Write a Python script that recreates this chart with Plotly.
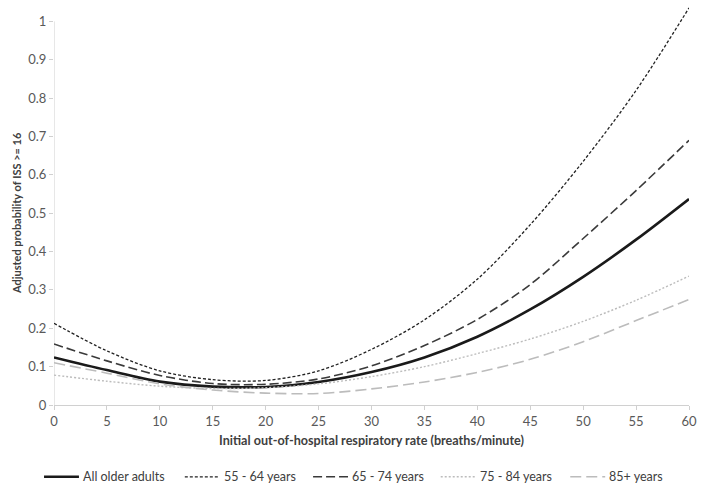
import plotly.graph_objects as go

resp_rate = [0, 5, 10, 15, 20, 25, 30, 35, 40, 45, 50, 55, 60]

all_older = [0.124, 0.091, 0.061, 0.048, 0.047, 0.060, 0.086, 0.124, 0.178, 0.249, 0.334, 0.431, 0.537]
age_55_64 = [0.213, 0.141, 0.089, 0.066, 0.064, 0.089, 0.145, 0.222, 0.328, 0.470, 0.635, 0.820, 1.035]
age_65_74 = [0.159, 0.115, 0.077, 0.056, 0.054, 0.068, 0.102, 0.155, 0.223, 0.314, 0.434, 0.559, 0.690]
age_75_84 = [0.078, 0.062, 0.049, 0.043, 0.045, 0.055, 0.074, 0.100, 0.134, 0.172, 0.218, 0.273, 0.336]
age_85_up = [0.110, 0.083, 0.055, 0.039, 0.031, 0.030, 0.042, 0.060, 0.085, 0.119, 0.165, 0.220, 0.275]

series = [
    ("All older adults", all_older, "#1a1a1a", 2.6, "solid"),
    ("55 - 64 years", age_55_64, "#222222", 1.3, "3px,2px"),
    ("65 - 74 years", age_65_74, "#3a3a3a", 1.6, "9px,4px"),
    ("75 - 84 years", age_75_84, "#bcbcbc", 1.4, "2px,2px"),
    ("85+ years", age_85_up, "#bcbcbc", 1.6, "11px,5px"),
]

x_ticks = list(range(0, 61, 5))
y_ticks = [0, 0.1, 0.2, 0.3, 0.4, 0.5, 0.6, 0.7, 0.8, 0.9, 1]
y_tick_text = ["0", "0.1", "0.2", "0.3", "0.4", "0.5", "0.6", "0.7", "0.8", "0.9", "1"]

# legend layout (paper coordinates)
legend_line_x0 = [-0.0157, 0.206, 0.408, 0.609, 0.813]
legend_line_len = 0.055
legend_y = -0.180

fig = go.Figure()
for name, vals, color, width, dash in series:
    fig.add_trace(go.Scatter(
        x=resp_rate, y=vals, mode="lines", name=name, showlegend=False,
        line=dict(color=color, width=width, dash=dash, shape="spline", smoothing=0.9),
    ))

font_family = "Lato, 'Open Sans', sans-serif"

shapes = [dict(type="line", xref="x", yref="y", x0=0, x1=0, y0=0, y1=1,
               line=dict(color="#d0d0d0", width=1), layer="below")]
annotations = []
for (name, vals, color, width, dash), lx in zip(series, legend_line_x0):
    shapes.append(dict(type="line", xref="paper", yref="paper",
                       x0=lx, x1=lx + legend_line_len, y0=legend_y, y1=legend_y,
                       line=dict(color=color, width=width, dash=dash)))
    annotations.append(dict(xref="paper", yref="paper", x=lx + legend_line_len + 0.003,
                            y=legend_y, xanchor="left", yanchor="middle", showarrow=False,
                            text=name, font=dict(size=12.5, color="#404040")))

annotations.append(dict(xref="paper", yref="y", x=-0.060, y=0.5, xanchor="center",
                        yanchor="middle", showarrow=False, textangle=-90,
                        text="<b>Adjusted probability of ISS >= 16</b>",
                        font=dict(size=11, color="#404040")))

fig.update_layout(
    width=704, height=494,
    margin=dict(l=54, r=15, t=6, b=89),
    paper_bgcolor="white", plot_bgcolor="white",
    font=dict(family=font_family, size=13, color="#595959"),
    showlegend=False,
    xaxis=dict(
        range=[0, 60], tickvals=x_ticks, ticktext=[str(v) for v in x_ticks],
        showgrid=False, zeroline=False, automargin=False,
        showline=True, linecolor="#d0d0d0", linewidth=1,
        ticks="outside", ticklen=4, tickcolor="#d0d0d0",
        tickfont=dict(size=13, color="#595959"),
        title=dict(text="<b>Initial out-of-hospital respiratory rate (breaths/minute)</b>",
                   font=dict(size=12.6, color="#404040"), standoff=8),
    ),
    yaxis=dict(
        range=[0, 1.04], tickvals=y_ticks, ticktext=y_tick_text,
        showgrid=False, zeroline=False, showline=False, automargin=False,
        ticks="outside", ticklen=4, tickcolor="#d0d0d0",
        tickfont=dict(size=13, color="#595959"),
    ),
    shapes=shapes,
    annotations=annotations,
)

fig.write_html("out.html", config={"displayModeBar": False},
               post_script="document.body.style.margin='0';document.body.style.padding='0';")
